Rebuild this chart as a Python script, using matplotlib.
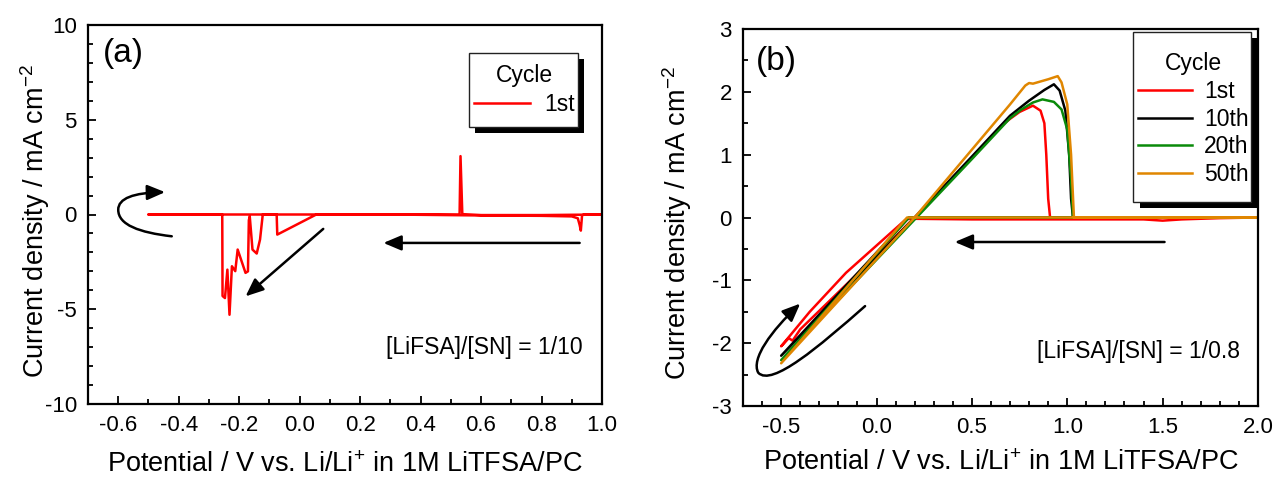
import matplotlib
matplotlib.use("Agg")
import matplotlib.pyplot as plt
from matplotlib.patches import FancyArrowPatch, Rectangle
from matplotlib.path import Path
from matplotlib.ticker import MultipleLocator

plt.rcParams['font.family'] = ['Liberation Sans', 'DejaVu Sans']
plt.rcParams['mathtext.fontset'] = 'custom'
plt.rcParams['mathtext.rm'] = 'Liberation Sans'
plt.rcParams['axes.unicode_minus'] = False

# ---- panel (a): [LiFSA]/[SN] = 1/10, first cycle only ----
# sweep order: 1.0 V -> -0.5 V (cathodic) -> 1.0 V (anodic)
a_pot = [1.00, 0.94, 0.934, 0.930, 0.926, 0.920, 0.90, 0.80, 0.60, 0.30,
         0.055, -0.074, -0.076, -0.122, -0.131, -0.142, -0.156, -0.165,
         -0.168, -0.171, -0.179, -0.190, -0.205, -0.213, -0.224, -0.232,
         -0.239, -0.247, -0.255, -0.256, -0.30, -0.50,
         -0.30, 0.20, 0.529, 0.532, 0.538, 0.60, 0.80, 1.00]
a_cur = [0.00, 0.00, -0.05, -0.85, -0.55, -0.20, -0.10, -0.07, -0.05, 0.00,
         0.00, -1.06, 0.00, 0.00, -1.32, -2.06, -1.85, -0.10,
         -0.30, -3.00, -3.08, -2.56, -1.85, -2.99, -2.73, -5.29,
         -2.91, -4.41, -4.30, 0.00, 0.00, 0.00,
         0.00, 0.00, 0.00, 3.08, 0.02, -0.03, -0.03, 0.00]

# ---- panel (b): [LiFSA]/[SN] = 1/0.8, cycles 1, 10, 20, 50 ----
b_cycles = ['1st', '10th', '20th', '50th']
b_colors = ['#ff0000', '#000000', '#0a8a0a', '#e08600']

b1_pot = [2.00, 1.80, 1.60, 1.50, 1.40, 1.00, 0.50, 0.17, 0.15, -0.16, -0.35, -0.50,
          -0.46, -0.44, -0.40, 0.00, 0.20, 0.50, 0.60, 0.65, 0.70, 0.75, 0.82,
          0.86, 0.88, 0.89, 0.90, 0.91, 1.20, 2.00]
b1_cur = [0.00, -0.01, -0.03, -0.05, -0.03, -0.03, -0.03, -0.02, -0.04, -0.88, -1.50, -2.05,
          -1.92, -1.96, -1.78, -0.60, 0.00, 0.95, 1.28, 1.45, 1.57, 1.68, 1.78,
          1.70, 1.50, 1.00, 0.30, 0.00, 0.00, 0.00]

b10_pot = [2.00, 0.17, -0.50, 0.20, 0.50, 0.70, 0.80, 0.88, 0.93, 0.96, 0.99,
           1.01, 1.02, 1.03, 2.00]
b10_cur = [0.00, 0.00, -2.20, 0.00, 0.97, 1.62, 1.86, 2.03, 2.12, 2.02, 1.70,
           1.00, 0.30, 0.00, 0.00]

b20_pot = [2.00, 0.17, -0.50, 0.21, 0.50, 0.70, 0.76, 0.82, 0.87, 0.93, 0.97,
           1.00, 1.02, 1.03, 2.00]
b20_cur = [0.00, 0.00, -2.27, 0.00, 0.93, 1.58, 1.72, 1.83, 1.88, 1.84, 1.72,
           1.40, 0.60, 0.00, 0.00]

b50_pot = [2.00, 0.16, -0.50, 0.20, 0.50, 0.70, 0.78, 0.80, 0.82, 0.90, 0.95,
           0.97, 1.00, 1.02, 1.035, 2.00]
b50_cur = [0.00, 0.00, -2.32, 0.00, 1.08, 1.80, 2.10, 2.14, 2.13, 2.20, 2.25,
           2.15, 1.80, 1.00, 0.00, 0.00]

b_pots = [b1_pot, b10_pot, b20_pot, b50_pot]
b_curs = [b1_cur, b10_cur, b20_cur, b50_cur]

XLABEL = r'Potential / V vs. Li/Li$^{+}$ in 1M LiTFSA/PC'
YLABEL = r'Current density / mA cm$^{-2}$'
TICK_FS = 16
LABEL_FS = 19.5
LEG_FS = 16.5


def style_axes(ax):
    for s in ax.spines.values():
        s.set_linewidth(1.6)
    ax.tick_params(which='both', direction='in', top=False, right=False,
                   labelsize=TICK_FS, width=1.3)
    ax.tick_params(which='major', length=6, pad=8)
    ax.tick_params(which='minor', length=3.5)


def legend_box(ax, x0, y0, x1, y1, dx, dy):
    # white framed box with a solid black drop shadow (axes fraction coords)
    ax.add_patch(Rectangle((x0 + dx, y0 - dy), x1 - x0, y1 - y0, transform=ax.transAxes,
                           facecolor='k', edgecolor='none', zorder=4.8, clip_on=False))
    ax.add_patch(Rectangle((x0, y0), x1 - x0, y1 - y0, transform=ax.transAxes,
                           facecolor='white', edgecolor='#222222', lw=1.0,
                           zorder=4.9, clip_on=False))


def straight_arrow(ax, p0, p1):
    ax.add_patch(FancyArrowPatch(p0, p1, arrowstyle='-|>,head_length=0.9,head_width=0.38',
                                 mutation_scale=12, color='k', lw=1.8,
                                 shrinkA=0, shrinkB=0, zorder=4))


def curved_arrow(ax, verts):
    codes = [Path.MOVETO, Path.CURVE4, Path.CURVE4, Path.CURVE4,
             Path.CURVE4, Path.CURVE4, Path.CURVE4]
    ax.add_patch(FancyArrowPatch(path=Path(verts, codes),
                                 arrowstyle='-|>,head_length=0.9,head_width=0.38',
                                 mutation_scale=12, color='k', lw=1.8, zorder=4))


fig = plt.figure(figsize=(12.77, 4.8), dpi=100)
ax_a = fig.add_axes([88 / 1277, 76 / 480, 514 / 1277, 379 / 480])
ax_b = fig.add_axes([743 / 1277, 74 / 480, 515 / 1277, 377 / 480])

# panel (a)
ax_a.plot(a_pot, a_cur, color='#ff0000', lw=1.8, label='1st')
ax_a.set_xlim(-0.7, 1.0)
ax_a.set_ylim(-10, 10)
ax_a.xaxis.set_major_locator(MultipleLocator(0.2))
ax_a.xaxis.set_minor_locator(MultipleLocator(0.1))
ax_a.yaxis.set_major_locator(MultipleLocator(5))
ax_a.yaxis.set_minor_locator(MultipleLocator(1))
ax_a.xaxis.set_major_formatter(lambda v, p: f'{v:.1f}')
style_axes(ax_a)
ax_a.set_xlabel(XLABEL, fontsize=LABEL_FS, va='center')
ax_a.set_ylabel(YLABEL, fontsize=LABEL_FS, va='center')
ax_a.xaxis.set_label_coords(0.5, (404 - 465) / 379)
ax_a.yaxis.set_label_coords((35 - 88) / 514, 0.482)
ax_a.text(0.028, 0.925, '(a)', transform=ax_a.transAxes, fontsize=24, va='center')
ax_a.text(0.963, 0.15, '[LiFSA]/[SN] = 1/10', transform=ax_a.transAxes,
          fontsize=LEG_FS, ha='right', va='center')
straight_arrow(ax_a, (0.926, -1.5), (0.277, -1.5))
straight_arrow(ax_a, (0.078, -0.76), (-0.179, -4.32))
curved_arrow(ax_a, [(-0.423, -1.15), (-0.53, -0.95), (-0.60, -0.55), (-0.60, 0.25),
                    (-0.60, 0.85), (-0.55, 1.15), (-0.445, 1.18)])
legend_box(ax_a, 0.741, 0.731, 0.953, 0.926, 0.0117, 0.0158)
leg_a = ax_a.legend(title='Cycle', loc='upper left', bbox_to_anchor=(0.751, 0.897),
                    borderaxespad=0, borderpad=0, frameon=False,
                    fontsize=LEG_FS, title_fontsize=LEG_FS,
                    handlelength=2.45, handletextpad=0.62, labelspacing=0.27,
                    alignment='center')
leg_a.set_zorder(5)

# panel (b)
for pot, cur, lab, col in zip(b_pots, b_curs, b_cycles, b_colors):
    ax_b.plot(pot, cur, color=col, lw=1.8, label=lab)
ax_b.set_xlim(-0.7, 2.0)
ax_b.set_ylim(-3, 3)
ax_b.xaxis.set_major_locator(MultipleLocator(0.5))
ax_b.xaxis.set_minor_locator(MultipleLocator(0.1))
ax_b.yaxis.set_major_locator(MultipleLocator(1))
ax_b.yaxis.set_minor_locator(MultipleLocator(0.5))
ax_b.xaxis.set_major_formatter(lambda v, p: f'{v:.1f}')
style_axes(ax_b)
ax_b.set_xlabel(XLABEL, fontsize=LABEL_FS, va='center')
ax_b.set_ylabel(YLABEL, fontsize=LABEL_FS, va='center')
ax_b.xaxis.set_label_coords(0.5, (406 - 463) / 377)
ax_b.yaxis.set_label_coords((677 - 743) / 515, 0.484)
ax_b.text(0.025, 0.915, '(b)', transform=ax_b.transAxes, fontsize=24, va='center')
ax_b.text(0.965, 0.145, '[LiFSA]/[SN] = 1/0.8', transform=ax_b.transAxes,
          fontsize=LEG_FS, ha='right', va='center')
straight_arrow(ax_b, (1.51, -0.39), (0.41, -0.39))
curved_arrow(ax_b, [(-0.06, -1.41), (-0.30, -2.05), (-0.55, -2.70), (-0.62, -2.47),
                    (-0.66, -2.25), (-0.55, -1.80), (-0.40, -1.37)])
legend_box(ax_b, 0.757, 0.541, 0.986, 0.992, 0.0136, 0.016)
leg_b = ax_b.legend(title='Cycle', loc='upper left', bbox_to_anchor=(0.767, 0.939),
                    borderaxespad=0, borderpad=0, frameon=False,
                    fontsize=LEG_FS, title_fontsize=LEG_FS,
                    handlelength=2.35, handletextpad=0.54, labelspacing=0.21,
                    alignment='center')
leg_b.set_zorder(5)

fig.savefig('out.png', dpi=100)
